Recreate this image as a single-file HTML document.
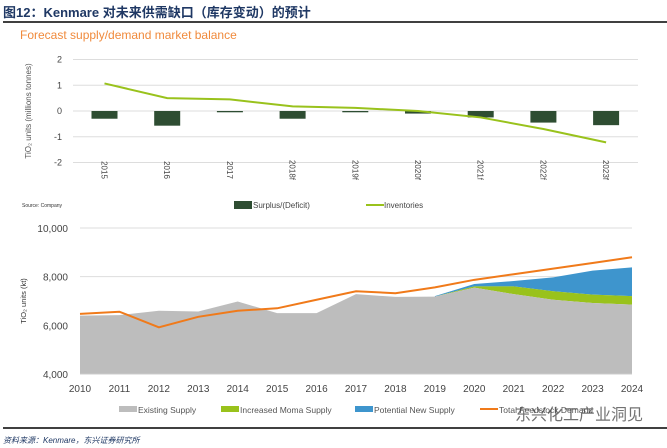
<!DOCTYPE html>
<html><head><meta charset="utf-8"><style>
body{margin:0;background:#fff;width:667px;height:448px;overflow:hidden;font-family:"Liberation Sans","Noto Sans CJK SC",sans-serif}
svg{display:block}
</style></head><body>
<svg id="s" width="667" height="448" xmlns="http://www.w3.org/2000/svg">
<text x="3" y="17" font-size="13" font-weight="bold" fill="#1f3864" font-family="Liberation Sans,Noto Sans CJK SC,sans-serif">图12：Kenmare 对未来供需缺口（库存变动）的预计</text>
<line x1="3" y1="22" x2="667" y2="22" stroke="#000" stroke-width="1.5"/>
<text x="20" y="39" font-size="12" fill="#f08a3c">Forecast supply/demand market balance</text>
<text transform="translate(31,111) rotate(-90)" text-anchor="middle" font-size="8" fill="#555">TiO₂ units (millions tonnes)</text>
<text x="22" y="207" font-size="5" fill="#333">Source: Company</text>
<g>
<rect x="234" y="201" width="18" height="8" fill="#2e4d32"/>
<text x="253" y="208" font-size="8" fill="#444">Surplus/(Deficit)</text>
<line x1="366" y1="205" x2="384" y2="205" stroke="#99c21c" stroke-width="2"/>
<text x="384" y="208" font-size="8" fill="#444">Inventories</text>
</g>
<text transform="translate(26,301) rotate(-90)" text-anchor="middle" font-size="7.5" fill="#333">TiO₂ units (kt)</text>
<g>
<rect x="119" y="406" width="18" height="6" fill="#bdbdbd"/>
<text x="138" y="413" font-size="8.5" fill="#555">Existing Supply</text>
<rect x="221" y="406" width="18" height="6" fill="#99c21c"/>
<text x="240" y="413" font-size="8.5" fill="#555">Increased Moma Supply</text>
<rect x="355" y="406" width="18" height="6" fill="#3e95cd"/>
<text x="374" y="413" font-size="8.5" fill="#555">Potential New Supply</text>
<line x1="480" y1="409" x2="498" y2="409" stroke="#f07a1a" stroke-width="2"/>
<text x="499" y="413" font-size="8.5" fill="#555">Total Feedstock Demand</text>
</g>
<text x="515" y="420" font-size="16" fill="#444" opacity="0.75">东兴化工产业洞见</text>
<line x1="3" y1="428" x2="667" y2="428" stroke="#000" stroke-width="1.5"/>
<text x="3" y="443" font-size="8" font-style="italic" fill="#1f3864">资料来源：Kenmare，东兴证券研究所</text>
</svg>
<script>
const topCats=["2015","2016","2017","2018f","2019f","2020f","2021f","2022f","2023f"];
const surplus=[-0.3,-0.57,-0.05,-0.3,-0.05,-0.1,-0.25,-0.45,-0.55];
const inventories=[1.07,0.5,0.45,0.18,0.12,0.0,-0.25,-0.7,-1.22];
const topTicks=[2,1,0,-1,-2];
const years=[2010,2011,2012,2013,2014,2015,2016,2017,2018,2019,2020,2021,2022,2023,2024];
const existing=[6400,6420,6600,6570,6980,6500,6500,7280,7170,7180,7550,7280,7050,6920,6850];
const momaTop=[null,null,null,null,null,null,null,null,null,7180,7600,7600,7400,7260,7200];
const newTop=[null,null,null,null,null,null,null,null,null,7200,7700,7820,7970,8250,8380];
const demand=[6470,6560,5920,6350,6600,6700,7050,7400,7320,7560,7870,8100,8330,8560,8800];
const bottomTicks=[4000,6000,8000,10000];

const S=document.getElementById('s');const NS='http://www.w3.org/2000/svg';
function mk(t,a,p){const e=document.createElementNS(NS,t);for(const k in a)e.setAttribute(k,a[k]);(p||S).appendChild(e);return e;}
const ty=v=>111-v*25.75; const tx=i=>104.5+i*62.7;
topTicks.forEach(t=>{const l=mk('line',{x1:73,x2:638,y1:ty(t),y2:ty(t),stroke:'#ddd','stroke-width':1});


const tt=mk('text',{x:62,y:ty(t)+3,'font-size':9,fill:'#444','text-anchor':'end'});tt.textContent=t;

});
surplus.forEach((v,i)=>{const r=mk('rect',{x:tx(i)-13,y:Math.min(ty(0),ty(v)),width:26,height:Math.abs(ty(v)-ty(0)),fill:'#2e4d32'});


const t=mk('text',{transform:`translate(${tx(i)-3},170) rotate(90)`,'font-size':8,fill:'#444','text-anchor':'middle'});t.textContent=topCats[i];

});
const il=mk('polyline',{points:inventories.map((v,i)=>tx(i)+','+ty(v)).join(' '),fill:'none',stroke:'#99c21c','stroke-width':2});


const by=v=>374-(v-4000)/6000*146; const bx=i=>80+i*(552/14);
bottomTicks.forEach(t=>{const l=mk('line',{x1:80,x2:632,y1:by(t),y2:by(t),stroke:'#ddd','stroke-width':1});


const tt=mk('text',{x:68,y:by(t)+4,'font-size':10,fill:'#444','text-anchor':'end'});tt.textContent=t.toLocaleString('en-US');

});
function band(top,base,fill,name){const idx=years.map((_,i)=>i).filter(i=>top[i]!=null);
const up=idx.map(i=>bx(i)+','+by(top[i])),dn=idx.slice().reverse().map(i=>bx(i)+','+by(base[i]));
const p=mk('polygon',{points:up.concat(dn).join(' '),fill:fill});

}
band(newTop,momaTop,'#3e95cd','potential-new-supply-area');
band(momaTop,existing,'#99c21c','moma-supply-area');
band(existing,years.map(()=>4000),'#bdbdbd','existing-supply-area');
const ax=mk('line',{x1:80,x2:632,y1:374,y2:374,stroke:'#ccc','stroke-width':1});


years.forEach((y,i)=>{const t=mk('text',{x:bx(i),y:392,'font-size':10,fill:'#444','text-anchor':'middle'});t.textContent=y;

});
const dl=mk('polyline',{points:demand.map((v,i)=>bx(i)+','+by(v)).join(' '),fill:'none',stroke:'#f07a1a','stroke-width':2});


</script>
</body></html>
